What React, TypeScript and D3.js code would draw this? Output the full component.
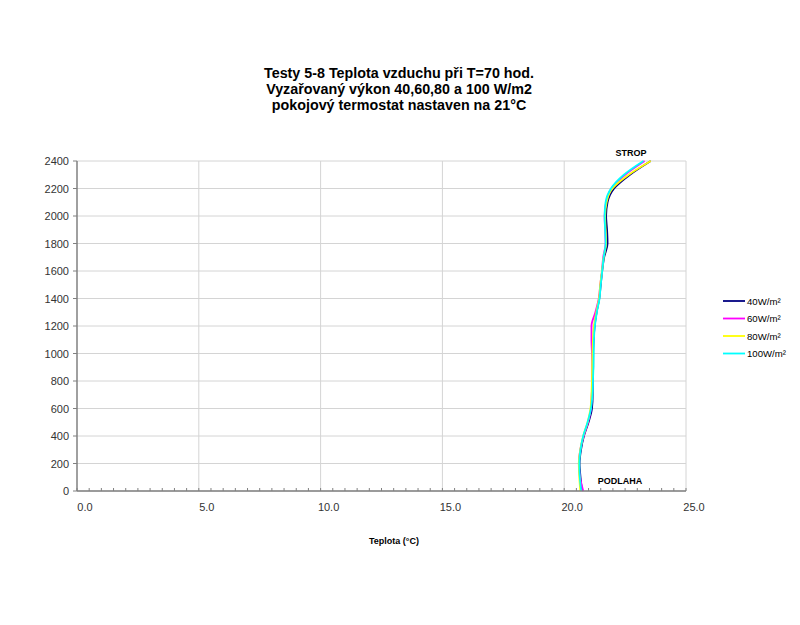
import React from "react";
import * as d3 from "d3";

const heights = [0,100,200,300,400,500,600,700,800,900,1000,1100,1200,1300,1400,1500,1600,1700,1800,1900,2000,2100,2200,2300,2400];
const s40 = [20.73,20.67,20.63,20.69,20.81,21.0,21.14,21.17,21.17,21.19,21.19,21.21,21.25,21.33,21.44,21.5,21.56,21.64,21.78,21.76,21.72,21.78,22.05,22.7,23.55];
const s60 = [20.78,20.65,20.6,20.66,20.8,20.98,21.1,21.13,21.15,21.15,21.14,21.12,21.12,21.28,21.42,21.48,21.55,21.6,21.7,21.68,21.66,21.72,21.94,22.5,23.3];
const s80 = [20.66,20.62,20.6,20.66,20.78,20.96,21.08,21.12,21.14,21.15,21.16,21.18,21.22,21.32,21.43,21.48,21.55,21.62,21.72,21.7,21.68,21.74,21.98,22.65,23.55];
const s100 = [20.7,20.64,20.62,20.67,20.78,20.96,21.1,21.16,21.18,21.2,21.21,21.22,21.26,21.34,21.45,21.5,21.56,21.62,21.7,21.68,21.66,21.7,21.92,22.45,23.25];
const seriesNames = ["40W/m²", "60W/m²", "80W/m²", "100W/m²"];
const seriesColors = ["#000080", "#ff00ff", "#ffff00", "#00ffff"];
const seriesData = [s40, s60, s80, s100];
const xTicks = [0, 5, 10, 15, 20, 25];
const yTicks = [0,200,400,600,800,1000,1200,1400,1600,1800,2000,2200,2400];
const titleLines = [
  "Testy 5-8 Teplota vzduchu při T=70 hod.",
  "Vyzařovaný výkon 40,60,80 a 100 W/m2",
  "pokojový termostat nastaven na 21°C",
];

const FONT = "'Liberation Sans', Arial, sans-serif";

export default function App() {
  const x = d3.scaleLinear().domain([0, 25]).range([77, 686]);
  const y = d3.scaleLinear().domain([0, 2400]).range([491, 161]);
  const minor = d3.range(0, 25.001, 0.5);
  const line = d3
    .line<number>()
    .x((d) => x(d))
    .y((_, i) => y(heights[i]))
    .curve(d3.curveMonotoneY);

  return (
    <svg width={800} height={625} style={{ position: "absolute", left: 0, top: 0, background: "#fff" }} fontFamily={FONT}>
      <rect width={800} height={625} fill="#fff" />
      {titleLines.map((t, i) => (
        <text key={i} x={399} y={78 + i * 16} textAnchor="middle" fontSize={14.3} fontWeight="bold" fill="#000">
          {t}
        </text>
      ))}
      {yTicks.map((v) => (
        <line key={"gy" + v} x1={x(0)} x2={x(25)} y1={y(v)} y2={y(v)} stroke="#d4d4d4" strokeWidth={1} />
      ))}
      {xTicks.slice(1).map((v) => (
        <line key={"gx" + v} x1={x(v)} x2={x(v)} y1={y(0)} y2={y(2400)} stroke="#d4d4d4" strokeWidth={1} />
      ))}
      {seriesData.map((s, i) => (
        <path key={"s" + i} d={line(s) || ""} fill="none" stroke={seriesColors[i]} strokeWidth={1.8} />
      ))}
      <line x1={x(0)} x2={x(0)} y1={y(0)} y2={y(2400)} stroke="#808080" strokeWidth={1.5} />
      <line x1={x(0)} x2={x(25)} y1={y(0)} y2={y(0)} stroke="#808080" strokeWidth={1.5} />
      {yTicks.map((v) => (
        <g key={"ty" + v}>
          <line x1={x(0) - 4} x2={x(0)} y1={y(v)} y2={y(v)} stroke="#808080" strokeWidth={1} />
          <text x={69} y={y(v) + 4} textAnchor="end" fontSize={11} fill="#333">
            {v}
          </text>
        </g>
      ))}
      {minor.map((v) => (
        <line key={"mx" + v} x1={x(v)} x2={x(v)} y1={y(0)} y2={y(0) - 3} stroke="#808080" strokeWidth={1} />
      ))}
      {xTicks.map((v) => (
        <text key={"tx" + v} x={x(v) + 8} y={511} textAnchor="middle" fontSize={11} fill="#333">
          {v.toFixed(1)}
        </text>
      ))}
      <text x={394} y={544} textAnchor="middle" fontSize={9} fontWeight="bold" fill="#000">
        Teplota (°C)
      </text>
      <text x={631} y={156} textAnchor="middle" fontSize={9} fontWeight="bold" fill="#000">
        STROP
      </text>
      <text x={620} y={484} textAnchor="middle" fontSize={9} fontWeight="bold" fill="#000">
        PODLAHA
      </text>
      {seriesNames.map((n, i) => (
        <g key={"lg" + i}>
          <line x1={723} x2={745} y1={301 + i * 17.5} y2={301 + i * 17.5} stroke={seriesColors[i]} strokeWidth={1.8} />
          <text x={747} y={304.5 + i * 17.5} fontSize={9.6} fill="#000">
            {n}
          </text>
        </g>
      ))}
    </svg>
  );
}
